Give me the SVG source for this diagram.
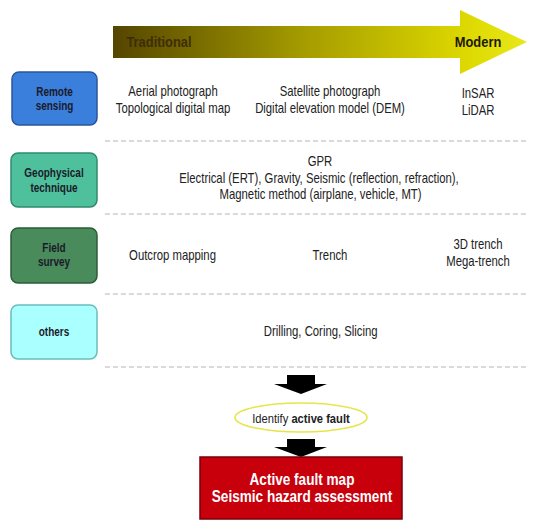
<svg xmlns="http://www.w3.org/2000/svg" width="550" height="529" viewBox="0 0 550 529">
<defs>
<linearGradient id="tl" x1="113" y1="0" x2="527" y2="0" gradientUnits="userSpaceOnUse">
<stop offset="0" stop-color="#554500"/>
<stop offset="0.45" stop-color="#a39a00"/>
<stop offset="0.85" stop-color="#ddd800"/>
<stop offset="1" stop-color="#e8e81a"/>
</linearGradient>
<style>
text{font-family:"Liberation Sans",Arial,sans-serif;text-anchor:middle}
.t{font-size:14px;fill:#222}
.b{font-size:12.5px;font-weight:bold;fill:#1a1a2a}
.d{stroke:#b5b5b5;stroke-width:1;stroke-dasharray:5 3;fill:none}
.box{stroke-width:1.5}
</style>
</defs>
<g id="timeline">
<path d="M113,26 H460 V10 L527,42 L460,74 V58 H113 Z" fill="url(#tl)"/>
<text transform="translate(159,46.7) scale(0.86,1)" style="font-size:15px;font-weight:bold;fill:#3e2e08">Traditional</text>
<text transform="translate(478,46.7) scale(0.86,1)" style="font-size:15px;font-weight:bold;fill:#1e1a08">Modern</text>
</g>
<g id="separators">
<line class="d" x1="105" y1="141" x2="528" y2="141"/>
<line class="d" x1="105" y1="214" x2="528" y2="214"/>
<line class="d" x1="105" y1="294" x2="528" y2="294"/>
<line class="d" x1="105" y1="367" x2="528" y2="367"/>
</g>
<g id="remote-sensing">
<rect class="box" x="12" y="72" width="85" height="53" rx="7" fill="#3b7fdc" stroke="#2a5799"/>
<text class="b" transform="translate(54.5,95.7) scale(0.8,1)">Remote</text>
<text class="b" transform="translate(54.5,110) scale(0.8,1)">sensing</text>
</g>
<g id="geophysical-technique">
<rect class="box" x="11" y="153" width="86" height="54" rx="7" fill="#4fc09c" stroke="#2f8a6e"/>
<text class="b" transform="translate(54,177) scale(0.8,1)">Geophysical</text>
<text class="b" transform="translate(54,191.5) scale(0.8,1)">technique</text>
</g>
<g id="field-survey">
<rect class="box" x="11" y="228" width="86" height="55" rx="7" fill="#4a8b5b" stroke="#2e5c3a"/>
<text class="b" transform="translate(54,251.7) scale(0.8,1)">Field</text>
<text class="b" transform="translate(54,266) scale(0.8,1)">survey</text>
</g>
<g id="others">
<rect class="box" x="11" y="305" width="86" height="54" rx="7" fill="#aaffff" stroke="#6cbcbc"/>
<text class="b" transform="translate(54,335.7) scale(0.8,1)">others</text>
</g>
<g id="remote-items">
<text class="t" transform="translate(173,96) scale(0.81,1)">Aerial photograph</text>
<text class="t" transform="translate(173,112.5) scale(0.81,1)">Topological digital map</text>
<text class="t" transform="translate(330,96) scale(0.81,1)">Satellite photograph</text>
<text class="t" transform="translate(330,112.5) scale(0.81,1)">Digital elevation model (DEM)</text>
<text class="t" transform="translate(478,98.3) scale(0.81,1)">InSAR</text>
<text class="t" transform="translate(478,114.5) scale(0.81,1)">LiDAR</text>
</g>
<g id="geophysical-items">
<text class="t" transform="translate(320,166) scale(0.81,1)">GPR</text>
<text class="t" transform="translate(319,182.7) scale(0.81,1)">Electrical (ERT), Gravity, Seismic (reflection, refraction),</text>
<text class="t" transform="translate(320.5,199.3) scale(0.81,1)">Magnetic method (airplane, vehicle, MT)</text>
</g>
<g id="field-items">
<text class="t" transform="translate(172.5,260) scale(0.81,1)">Outcrop mapping</text>
<text class="t" transform="translate(330,260) scale(0.81,1)">Trench</text>
<text class="t" transform="translate(478,249.3) scale(0.81,1)">3D trench</text>
<text class="t" transform="translate(478,266) scale(0.81,1)">Mega-trench</text>
</g>
<g id="others-items">
<text class="t" transform="translate(320.7,336) scale(0.81,1)">Drilling, Coring, Slicing</text>
</g>
<g id="connectors">
<path d="M287,375 H315 V384 H327 L301,394 L274,384 H287 Z" fill="#000"/>
<path d="M287,439 H315 V447 H327 L301,457 L274,447 H287 Z" fill="#000"/>
</g>
<g id="identify-active-fault">
<ellipse cx="301" cy="417.5" rx="66" ry="14.5" fill="#fff" stroke="#e6e64a" stroke-width="1.6"/>
<text transform="translate(301,422.7) scale(0.86,1)" style="font-size:13px;fill:#222">Identify <tspan font-weight="bold">active fault</tspan></text>
</g>
<g id="active-fault-map">
<rect x="200" y="457" width="202" height="62" fill="#c8000c" stroke="#7a0008" stroke-width="1.5"/>
<text transform="translate(302,485) scale(0.85,1)" style="font-size:16px;font-weight:bold;fill:#fff">Active fault map</text>
<text transform="translate(302,501.7) scale(0.85,1)" style="font-size:16px;font-weight:bold;fill:#fff">Seismic hazard assessment</text>
</g>
</svg>
